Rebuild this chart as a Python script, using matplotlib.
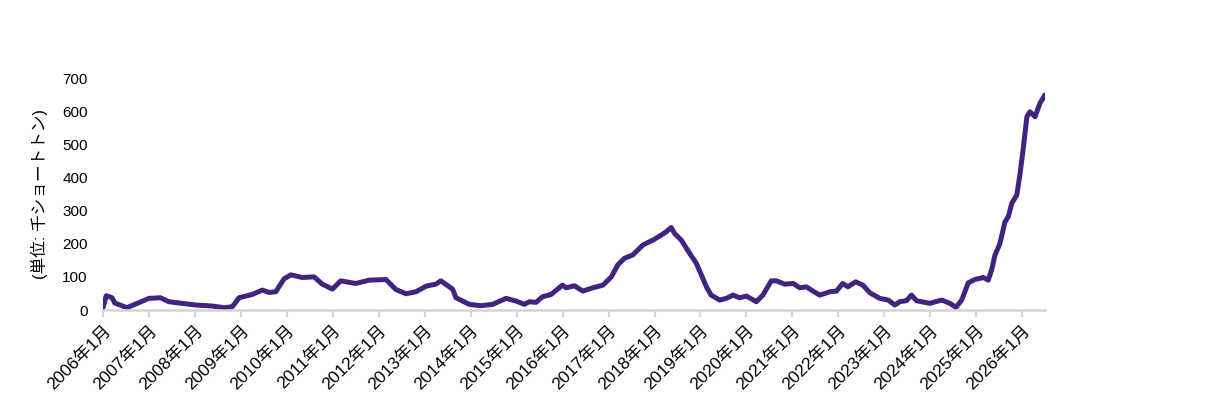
import matplotlib
matplotlib.use("Agg")
import matplotlib.pyplot as plt
import pandas as pd

plt.rcParams['font.family'] = ['Liberation Sans', 'Noto Sans CJK JP', 'DejaVu Sans']

dates = [
    "2006-01-01", "2006-01-27", "2006-03-14", "2006-04-05", "2006-07-10", "2006-09-17",
    "2007-01-01", "2007-04-03", "2007-06-08", "2007-09-22", "2008-01-08", "2008-05-18",
    "2008-08-20", "2008-10-25", "2008-12-17", "2009-04-01", "2009-06-20", "2009-08-12",
    "2009-10-05", "2009-12-10", "2010-02-02", "2010-05-04", "2010-08-05", "2010-10-10",
    "2010-12-29", "2011-03-05", "2011-07-02", "2011-10-17", "2012-02-28", "2012-05-16",
    "2012-08-05", "2012-10-23", "2013-01-12", "2013-03-30", "2013-05-09", "2013-08-10",
    "2013-09-06", "2013-12-21", "2014-03-23", "2014-06-24", "2014-10-09", "2014-12-27",
    "2015-03-03", "2015-04-12", "2015-06-04", "2015-07-26", "2015-10-02", "2015-12-31",
    "2016-01-30", "2016-04-05", "2016-06-10", "2016-08-29", "2016-11-17", "2017-01-23",
    "2017-03-15", "2017-05-07", "2017-07-12", "2017-09-30", "2017-12-19", "2018-02-11",
    "2018-04-04", "2018-05-13", "2018-06-09", "2018-08-01", "2018-10-07", "2018-11-29",
    "2019-01-08", "2019-02-17", "2019-03-27", "2019-06-02", "2019-07-25", "2019-09-16",
    "2019-11-08", "2020-01-01", "2020-03-20", "2020-05-11", "2020-07-17", "2020-08-26",
    "2020-11-01", "2021-01-07", "2021-02-28", "2021-04-21", "2021-06-13", "2021-08-06",
    "2021-10-25", "2021-12-17", "2022-02-04", "2022-03-18", "2022-05-18", "2022-07-15",
    "2022-09-08", "2022-11-26", "2023-02-01", "2023-03-25", "2023-05-04", "2023-06-26",
    "2023-08-05", "2023-09-14", "2023-12-29", "2024-04-01", "2024-06-06", "2024-07-23",
    "2024-09-07", "2024-10-29", "2024-12-21", "2025-02-26", "2025-04-06", "2025-05-03",
    "2025-05-29", "2025-07-08", "2025-08-17", "2025-09-13", "2025-10-10", "2025-11-19",
    "2025-12-15", "2026-01-11", "2026-02-07", "2026-03-04", "2026-04-13", "2026-05-22",
    "2026-07-01",
]
values = [
    7, 43, 37, 21, 7, 18,
    35, 37, 25, 20, 15, 12,
    7, 10, 37, 47, 60, 53,
    55, 94, 106, 98, 100, 78,
    63, 88, 80, 90, 92, 62,
    49, 55, 72, 78, 88, 63,
    37, 17, 13, 17, 35, 27,
    17, 25, 23, 40, 47, 75,
    67, 73, 57, 67, 75, 100,
    136, 156, 166, 196, 211, 223,
    236, 249, 231, 211, 171, 141,
    106, 70, 45, 30, 35, 45,
    37, 42, 25, 45, 88, 88,
    78, 80, 67, 70, 57, 45,
    55, 57, 80, 70, 85, 75,
    52, 35, 30, 15, 25, 28,
    45, 28, 20, 30, 20, 8,
    30, 82, 92, 98, 90, 121,
    165, 201, 266, 282, 322, 347,
    412, 493, 583, 598, 583, 624,
    649,
]
tick_years = list(range(2006, 2027))
tick_labels = [f"{y}年1月" for y in tick_years]
y_ticks = [0, 100, 200, 300, 400, 500, 600, 700]
ylabel = "(単位: 千ショートトン)"

x = pd.to_datetime(dates)

fig = plt.figure(figsize=(12.11, 4.04), dpi=100)
ax = fig.add_axes([103/1211, 1 - 310/404, (1045 - 103)/1211, (310 - 78)/404])

ax.plot(x, values, color="#42237f", lw=3.6, solid_capstyle="round", solid_joinstyle="round")

ax.set_xlim(pd.Timestamp("2006-01-01"), pd.Timestamp("2026-07-01"))
ax.set_ylim(0, 700)
ax.set_yticks(y_ticks)
ax.set_yticklabels([str(v) for v in y_ticks], fontsize=11)
ax.tick_params(axis="y", length=0, pad=11)

ax.set_xticks(pd.to_datetime([f"{y}-01-01" for y in tick_years]))
ax.set_xticklabels(tick_labels, rotation=45, ha="right", rotation_mode="anchor", fontsize=12.5)
ax.tick_params(axis="x", length=5, width=1.5, color="#d4d4d4", pad=4)

for s in ["top", "right", "left"]:
    ax.spines[s].set_visible(False)
ax.spines["bottom"].set_color("#d4d4d4")
ax.spines["bottom"].set_linewidth(1.8)

ax.set_ylabel(ylabel, fontsize=12, labelpad=10)

fig.savefig("out.png", dpi=100)
